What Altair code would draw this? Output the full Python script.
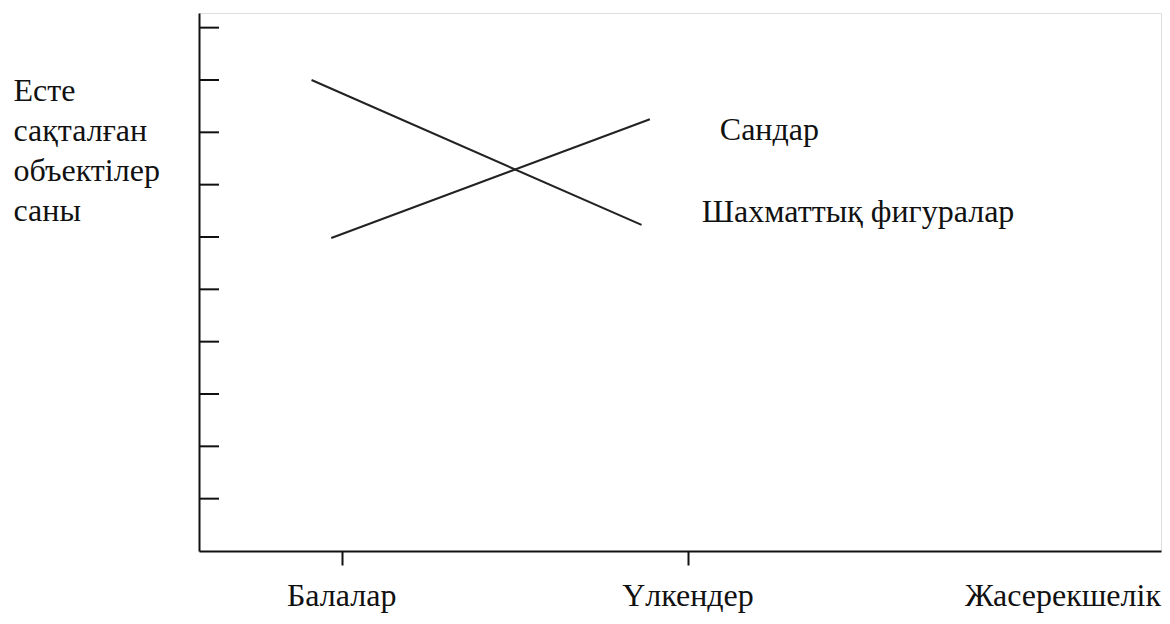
import altair as alt
import pandas as pd

# ---- data ----
series = ["Шахматтық фигуралар", "Шахматтық фигуралар", "Сандар", "Сандар"]
line_x = [-0.087, 0.866, -0.03, 0.89]
line_y = [9.0, 6.23, 5.98, 8.25]

categories = ["Балалар", "Үлкендер", "Жасерекшелік"]
category_pos = [0, 1, 2.083]
tick_categories = [0, 1]

label_names = ["Сандар", "Шахматтық фигуралар"]
label_x = [1.092, 1.040]
label_y = [7.85, 6.29]

y_ticks = list(range(1, 11))
y_title = ["Есте", "сақталған", "объектілер", "саны"]

FONT = "Liberation Serif"
FS = 32
INK = "#111111"

lines_df = pd.DataFrame({"series": series, "x": line_x, "y": line_y})
cat_df = pd.DataFrame({"cat": categories, "pos": category_pos})
lab_df = pd.DataFrame({"name": label_names, "x": label_x, "y": label_y})
tick_df = pd.DataFrame({"v": y_ticks})

W, H = 962, 538
xscale = alt.Scale(domain=[-0.412, 2.366], nice=False, zero=False)
yscale = alt.Scale(domain=[0, 10.28], nice=False, zero=True)

lines = alt.Chart(lines_df).mark_line(color="#222222", strokeWidth=2).encode(
    x=alt.X("x:Q", scale=xscale,
            axis=alt.Axis(values=tick_categories, labels=False, grid=False,
                          tickSize=14, tickWidth=2, tickColor=INK,
                          domainColor=INK, domainWidth=2, title=None)),
    y=alt.Y("y:Q", scale=yscale,
            axis=alt.Axis(values=[0], ticks=False, labels=False, grid=False,
                          domainColor=INK, domainWidth=2,
                          title=y_title, titleAngle=0, titleX=-186, titleY=87,
                          titleAlign="left", titleBaseline="alphabetic",
                          titleFont=FONT, titleFontSize=FS, titleFontWeight="normal",
                          titleLineHeight=40, titleColor=INK)),
    detail="series:N",
)

yticks = alt.Chart(tick_df).mark_rule(color=INK, strokeWidth=2).encode(
    y=alt.Y("v:Q", scale=yscale),
    x=alt.value(0),
    x2=alt.value(20),
)

xlabels = alt.Chart(cat_df).mark_text(
    font=FONT, fontSize=FS, color=INK, align="center", baseline="alphabetic"
).encode(
    x=alt.X("pos:Q", scale=xscale),
    y=alt.value(593),
    text="cat:N",
)

series_labels = alt.Chart(lab_df).mark_text(
    font=FONT, fontSize=FS, color=INK, align="left", baseline="alphabetic"
).encode(
    x=alt.X("x:Q", scale=xscale),
    y=alt.Y("y:Q", scale=yscale),
    text="name:N",
)

chart = alt.layer(lines, yticks, xlabels, series_labels).properties(
    width=W, height=H,
    autosize=alt.AutoSizeParams(type="none"),
    padding={"left": 191, "top": 5, "right": 1, "bottom": 65},
).configure_view(stroke=None).configure(background="white")

chart.save("out.html", embed_options={"renderer": "svg", "actions": False})
